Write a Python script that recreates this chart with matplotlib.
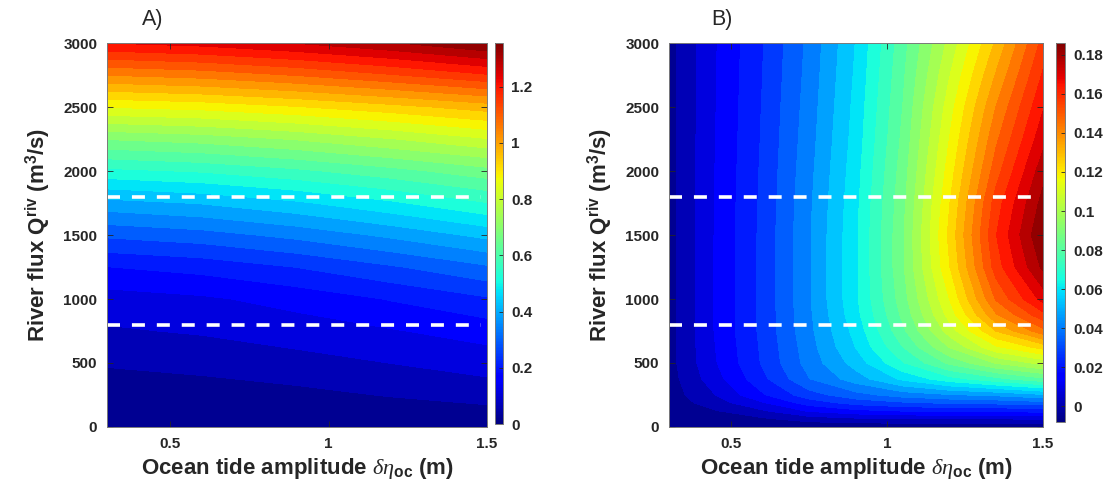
import matplotlib
matplotlib.use("Agg")
import matplotlib.pyplot as plt
import numpy as np
from matplotlib.cm import ScalarMappable
from matplotlib.colors import Normalize
from matplotlib.ticker import FormatStrFormatter

plt.rcParams["font.family"] = ["Liberation Sans", "DejaVu Sans"]
plt.rcParams["font.weight"] = "bold"
plt.rcParams["mathtext.fontset"] = "custom"
plt.rcParams["mathtext.rm"] = "Liberation Sans:weight=bold"
plt.rcParams["mathtext.bf"] = "Liberation Sans:weight=bold"
plt.rcParams["mathtext.it"] = "Liberation Serif:style=italic:weight=normal"

# panel A: grid (rows = river flux, cols = tide amplitude)
TIDE_A = [0.3, 0.6, 0.9, 1.2, 1.5]
FLUX_A = [0, 250, 500, 750, 1000, 1250, 1500, 1750, 2000, 2250, 2500, 2750, 3000]
VALUES_A = [
    [0.000, 0.000, 0.000, 0.000, 0.000],
    [0.015, 0.022, 0.033, 0.048, 0.065],
    [0.050, 0.060, 0.074, 0.091, 0.110],
    [0.085, 0.095, 0.112, 0.132, 0.155],
    [0.115, 0.128, 0.152, 0.184, 0.220],
    [0.180, 0.197, 0.227, 0.266, 0.310],
    [0.280, 0.298, 0.330, 0.372, 0.420],
    [0.390, 0.410, 0.444, 0.489, 0.540],
    [0.530, 0.547, 0.577, 0.616, 0.660],
    [0.680, 0.697, 0.727, 0.766, 0.810],
    [0.860, 0.874, 0.900, 0.933, 0.970],
    [1.040, 1.057, 1.087, 1.126, 1.170],
    [1.220, 1.237, 1.267, 1.306, 1.355],
]

# panel B
TIDE_B = [0.3, 0.45, 0.6, 0.75, 0.9, 1.05, 1.2, 1.35, 1.5]
FLUX_B = [0, 60, 125, 190, 250, 375, 500, 625, 750, 875, 1000,
          1250, 1500, 1750, 2000, 2250, 2500, 2750, 3000]
VALUES_B = [
    [-0.008, -0.007, -0.007, -0.007, -0.007, -0.007, -0.007, -0.007, -0.007],
    [-0.007, -0.005, -0.003, 0.001, 0.003, 0.004, 0.004, 0.004, 0.005],
    [-0.006, -0.002, 0.004, 0.012, 0.016, 0.018, 0.019, 0.019, 0.020],
    [-0.0055, 0.002, 0.011, 0.021, 0.027, 0.030, 0.032, 0.033, 0.035],
    [-0.005, 0.005, 0.017, 0.028, 0.035, 0.040, 0.043, 0.045, 0.049],
    [-0.0045, 0.009, 0.0225, 0.037, 0.047, 0.058, 0.067, 0.074, 0.081],
    [-0.004, 0.011, 0.025, 0.040, 0.053, 0.069, 0.084, 0.096, 0.104],
    [-0.004, 0.0115, 0.0255, 0.041, 0.057, 0.076, 0.096, 0.114, 0.124],
    [-0.004, 0.012, 0.026, 0.042, 0.059, 0.081, 0.105, 0.128, 0.145],
    [-0.004, 0.012, 0.026, 0.0425, 0.061, 0.084, 0.111, 0.140, 0.158],
    [-0.004, 0.012, 0.026, 0.043, 0.062, 0.086, 0.115, 0.148, 0.169],
    [-0.004, 0.012, 0.026, 0.043, 0.062, 0.088, 0.121, 0.157, 0.181],
    [-0.004, 0.012, 0.026, 0.043, 0.062, 0.088, 0.123, 0.160, 0.186],
    [-0.004, 0.0119, 0.0257, 0.0425, 0.0614, 0.087, 0.121, 0.157, 0.182],
    [-0.004, 0.0117, 0.0254, 0.0418, 0.0605, 0.0856, 0.118, 0.151, 0.177],
    [-0.004, 0.0115, 0.0250, 0.0410, 0.0595, 0.0840, 0.115, 0.146, 0.171],
    [-0.004, 0.0113, 0.0247, 0.0403, 0.0587, 0.0826, 0.112, 0.141, 0.166],
    [-0.004, 0.0112, 0.0243, 0.0396, 0.0578, 0.0813, 0.108, 0.135, 0.161],
    [-0.004, 0.0110, 0.0240, 0.0390, 0.0570, 0.0800, 0.104, 0.129, 0.156],
]

DASHED_FLUX = [800, 1800]
X_TICKS = [0.5, 1, 1.5]
Y_TICKS = [0, 500, 1000, 1500, 2000, 2500, 3000]
CBAR_TICKS_A = [0, 0.2, 0.4, 0.6, 0.8, 1.0, 1.2]
CBAR_TICKS_B = [0, 0.02, 0.04, 0.06, 0.08, 0.10, 0.12, 0.14, 0.16, 0.18]

TEXT = "#262626"
W, H = 1107, 491


def px_rect(x0, y0, x1, y1):
    return [x0 / W, 1 - y1 / H, (x1 - x0) / W, (y1 - y0) / H]


def draw_panel(fig, ax_rect, cax_rect, tide, flux, values, cticks, letter, letter_x):
    ax = fig.add_axes(px_rect(*ax_rect))
    z = np.array(values)
    xx, yy = np.meshgrid(tide, flux)
    norm = Normalize(vmin=z.min(), vmax=z.max())
    levels = np.linspace(z.min(), z.max(), 31)
    # drawn twice so the band seams do not show
    for _ in range(2):
        ax.contourf(xx, yy, z, levels=levels, cmap="jet", norm=norm)
    for q in DASHED_FLUX:
        ax.axhline(q, color="white", lw=2.6, dashes=(3.6, 3.3), xmax=0.985)

    ax.set_xlim(0.3, 1.5)
    ax.set_ylim(0, 3000)
    ax.set_xticks(X_TICKS)
    ax.set_xticklabels(["0.5", "1", "1.5"])
    ax.set_yticks(Y_TICKS)
    ax.tick_params(direction="in", top=True, right=True, length=4, width=0.6,
                   labelsize=11, colors=TEXT, pad=7)
    for sp in ax.spines.values():
        sp.set_color("#7a7a7a")
        sp.set_linewidth(0.7)

    ax.set_ylabel(r"River flux Q$^{\mathbf{riv}}$ (m$^{\mathbf{3}}$/s)",
                  fontsize=16, fontweight="bold", color=TEXT, labelpad=8)
    ax.set_xlabel(r"Ocean tide amplitude $\delta\eta_{\mathbf{oc}}$ (m)",
                  fontsize=16, fontweight="bold", color=TEXT, labelpad=4)
    fig.text(letter_x / W, 1 - 19 / H, letter, fontsize=15.5, fontweight="normal",
             color=TEXT, ha="center", va="center")

    cax = fig.add_axes(px_rect(*cax_rect))
    cb = fig.colorbar(ScalarMappable(norm=norm, cmap="jet"), cax=cax)
    cb.set_ticks(cticks)
    cb.ax.yaxis.set_major_formatter(FormatStrFormatter("%g"))
    cb.ax.tick_params(direction="in", length=3, width=0.6, labelsize=11,
                      colors=TEXT, pad=6)
    cb.outline.set_edgecolor("#7a7a7a")
    cb.outline.set_linewidth(0.7)


fig = plt.figure(figsize=(W / 100, H / 100), dpi=100)
draw_panel(fig, (107, 43, 487, 427), (495, 43, 503, 424), TIDE_A, FLUX_A, VALUES_A,
           CBAR_TICKS_A, "A)", 153)
draw_panel(fig, (669, 43, 1043, 427), (1056, 43, 1065, 422), TIDE_B, FLUX_B, VALUES_B,
           CBAR_TICKS_B, "B)", 722)
fig.savefig("out.png", dpi=100)
